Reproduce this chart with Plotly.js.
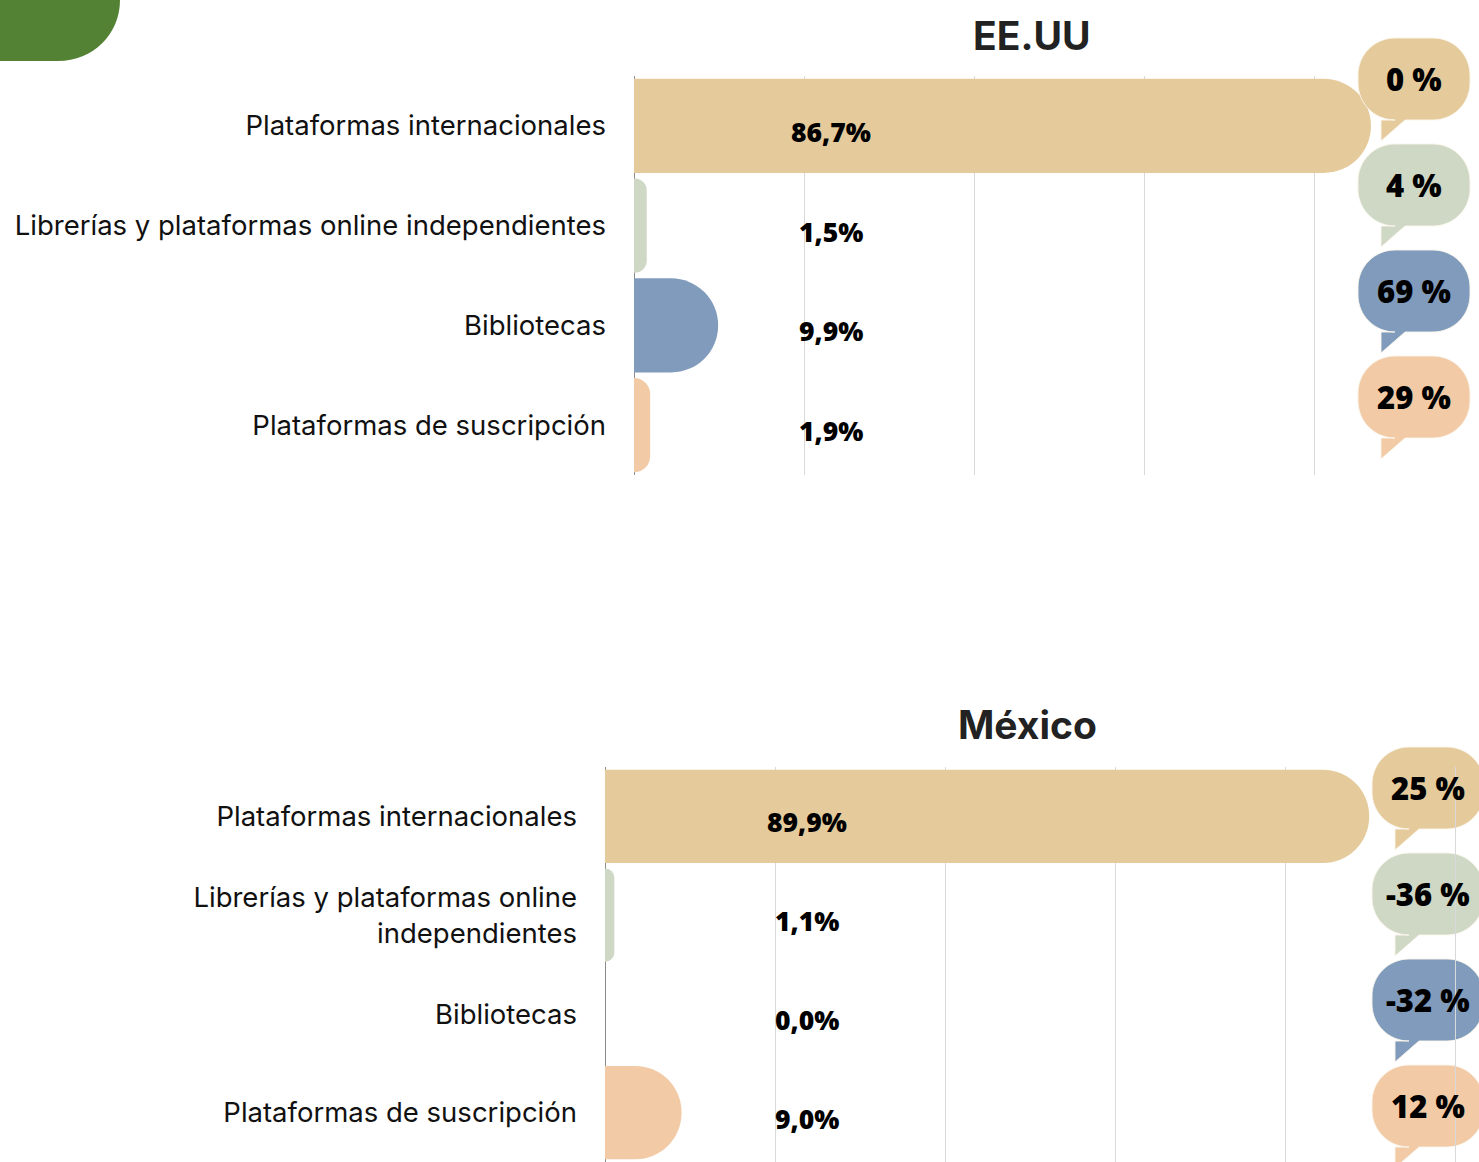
<!DOCTYPE html>
<html>
<head>
<meta charset="utf-8">
<script src="https://cdn.plot.ly/plotly-3.0.1.min.js"></script>
<style>html,body{margin:0;padding:0;background:#fff;}#chart{width:1479px;height:1162px;}</style>
</head>
<body>
<div id="chart"></div>
<script>
// ---- data ----
const categories = ['Plataformas internacionales', 'Librerías y plataformas online independientes', 'Bibliotecas', 'Plataformas de suscripción'];
const mxTickLabels = ['Plataformas internacionales', 'Librerías y plataformas online<br>independientes', 'Bibliotecas', 'Plataformas de suscripción'];
const usValues = [86.7, 1.5, 9.9, 1.9];
const mxValues = [89.9, 1.1, 0.0, 9.0];
const usLabels = ['86,7%', '1,5%', '9,9%', '1,9%'];
const mxLabels = ['89,9%', '1,1%', '0,0%', '9,0%'];
const usChange = ['0 %', '4 %', '69 %', '29 %'];
const mxChange = ['25 %', '-36 %', '-32 %', '12 %'];
const usTitle = 'EE.UU';
const mxTitle = 'México';

// ---- style ----
const W = 1479, H = 1162;
const colors = ['#E5CB9C', '#CFD8C5', '#809BBB', '#F2CAA6'];
const labelFont = 'Inter, "DejaVu Sans", sans-serif';
const numFont = '"Open Sans", "Noto Sans", sans-serif';
const pxPerPct = 8.5;
const px = x => x / W;
const py = y => 1 - y / H;

function bubblePath() {
  const hw = 56, hh = 41, r = 37, k = 0.5523 * r;
  return [
    `M ${-hw + r},${hh}`,
    `L ${hw - r},${hh}`,
    `C ${hw - r + k},${hh} ${hw},${hh - r + k} ${hw},${hh - r}`,
    `L ${hw},${-hh + r}`,
    `C ${hw},${-hh + r - k} ${hw - r + k},${-hh} ${hw - r},${-hh}`,
    `L -9,${-hh}`,
    `L -33,${-hh - 21}`,
    `L -33,${-hh}`,
    `L ${-hw + r},${-hh}`,
    `C ${-hw + r - k},${-hh} ${-hw},${-hh + r - k} ${-hw},${-hh + r}`,
    `L ${-hw},${hh - r}`,
    `C ${-hw},${hh - r + k} ${-hw + r - k},${hh} ${-hw + r},${hh}`,
    'Z'
  ].join(' ');
}

const traces = [
  {
    type: 'bar', orientation: 'h', x: usValues, y: categories,
    xaxis: 'x', yaxis: 'y',
    marker: { color: colors, cornerradius: '50%', line: { width: 0 } },
    hoverinfo: 'skip'
  },
  {
    type: 'bar', orientation: 'h', x: mxValues, y: categories,
    xaxis: 'x2', yaxis: 'y2',
    marker: { color: colors, cornerradius: '50%', line: { width: 0 } },
    hoverinfo: 'skip'
  }
];

const shapes = [];
const annotations = [];

// decorative corner
shapes.push({
  type: 'path', xref: 'paper', yref: 'paper', xsizemode: 'pixel', ysizemode: 'pixel',
  xanchor: 0, yanchor: 1,
  path: 'M -5,5 L 120,5 L 120,0 C 120,-34 93,-61 58,-61 L -5,-61 Z',
  fillcolor: '#548235', line: { width: 0 }, layer: 'above'
});

function addBubbles(changes, cx, cy0, step, layer) {
  changes.forEach((t, i) => {
    const cy = cy0 + i * step;
    shapes.push({
      type: 'path', xref: 'paper', yref: 'paper', xsizemode: 'pixel', ysizemode: 'pixel',
      xanchor: px(cx), yanchor: py(cy), path: bubblePath(),
      fillcolor: colors[i], line: { color: 'rgba(250,245,235,0.9)', width: 1 }, layer: layer
    });
    annotations.push({
      xref: 'paper', yref: 'paper', x: px(cx), y: py(cy), text: t, showarrow: false,
      xanchor: 'center', yanchor: 'middle',
      font: { family: numFont, size: 31, color: '#000', weight: 800 }
    });
  });
}
addBubbles(usChange, 1414, 79, 106, 'above');
addBubbles(mxChange, 1428, 788, 106, 'below');

function addBarLabels(labels, xref, yref, xpos) {
  labels.forEach((t, i) => {
    annotations.push({
      xref: xref, yref: yref, x: xpos, y: categories[i], text: t, showarrow: false,
      xanchor: 'center', yanchor: 'middle', yshift: -6,
      font: { family: numFont, size: 26.5, color: '#000', weight: 800 }
    });
  });
}
addBarLabels(usLabels, 'x', 'y', 23.2);
addBarLabels(mxLabels, 'x2', 'y2', 23.8);

annotations.push({
  xref: 'paper', yref: 'paper', x: px(1032), y: py(35), text: '<b>' + usTitle + '</b>', showarrow: false,
  xanchor: 'center', yanchor: 'middle', font: { family: labelFont, size: 39, color: '#222' }
});
annotations.push({
  xref: 'paper', yref: 'paper', x: px(1027), y: py(724), text: '<b>' + mxTitle + '</b>', showarrow: false,
  xanchor: 'center', yanchor: 'middle', font: { family: labelFont, size: 39, color: '#222' }
});

const xBase = {
  showticklabels: false, ticks: '', showgrid: true, gridcolor: '#d9d9d9', gridwidth: 1,
  dtick: 20, tick0: 0, zeroline: true, zerolinecolor: '#8c8c8c', zerolinewidth: 1,
  showline: false, fixedrange: true
};
const yBase = {
  autorange: 'reversed', showgrid: false, zeroline: false, showline: false, ticks: '',
  ticklabelstandoff: 27, tickfont: { family: labelFont, size: 27.5, color: '#111' }, fixedrange: true
};

const layout = {
  width: W, height: H,
  margin: { l: 0, r: 0, t: 0, b: 0 },
  paper_bgcolor: '#ffffff', plot_bgcolor: 'rgba(0,0,0,0)',
  showlegend: false, bargap: 0.057,
  xaxis: Object.assign({}, xBase, { domain: [px(634), 1], range: [0, (W - 634) / pxPerPct], anchor: 'y' }),
  yaxis: Object.assign({}, yBase, { domain: [py(475), py(76)], anchor: 'x' }),
  xaxis2: Object.assign({}, xBase, { domain: [px(605), 1], range: [0, (W - 605) / pxPerPct], anchor: 'y2' }),
  yaxis2: Object.assign({}, yBase, { domain: [0, py(767)], anchor: 'x2', tickmode: 'array', tickvals: categories, ticktext: mxTickLabels }),
  shapes: shapes,
  annotations: annotations
};

Plotly.newPlot('chart', traces, layout, { displayModeBar: false, staticPlot: true });
</script>
</body>
</html>
